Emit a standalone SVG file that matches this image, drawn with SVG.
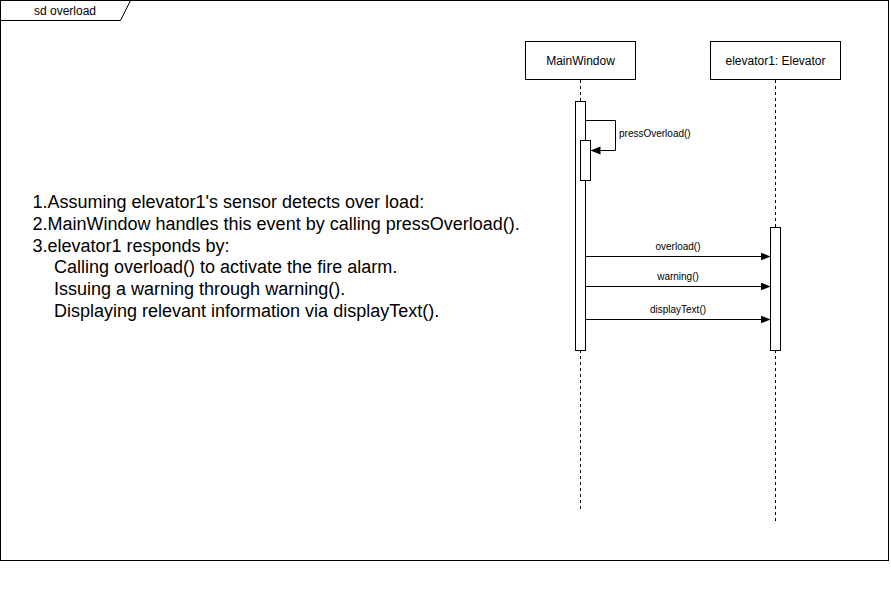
<svg xmlns="http://www.w3.org/2000/svg" width="891" height="606" viewBox="0 0 891 606">
<defs>
<marker id="arr" viewBox="0 0 10 10" refX="10" refY="5" markerWidth="10" markerHeight="10" markerUnits="userSpaceOnUse" orient="auto">
<path d="M0,1 L10,5 L0,9 Z" fill="#000"/>
</marker>
<style>
.t{font-family:"Liberation Sans",Arial,Helvetica,sans-serif;fill:#000}
.box{fill:#fff;stroke:#000;stroke-width:1}
.life{stroke:#000;stroke-width:1;stroke-dasharray:3 3;fill:none}
.msg{stroke:#000;stroke-width:1;fill:none;marker-end:url(#arr)}
</style>
</defs>
<rect width="891" height="606" fill="#fff"/>
<g id="frame">
<rect x="0.5" y="0.5" width="888" height="560" fill="none" stroke="#000"/>
<path d="M0.5,20.5 H120.5 L130.5,0.5" fill="none" stroke="#000"/>
<text class="t" x="65" y="14.5" font-size="12" text-anchor="middle">sd overload</text>
</g>
<g id="note">
<text class="t" font-size="18" x="32.5">
<tspan x="32.5" y="208">1.Assuming elevator1's sensor detects over load:</tspan>
<tspan x="32.5" y="229.8">2.MainWindow handles this event by calling pressOverload().</tspan>
<tspan x="32.5" y="251.6">3.elevator1 responds by:</tspan>
<tspan x="54" y="273.4">Calling overload() to activate the fire alarm.</tspan>
<tspan x="54" y="295.2">Issuing a warning through warning().</tspan>
<tspan x="54" y="317">Displaying relevant information via displayText().</tspan>
</text>
</g>
<g id="mainwindow">
<line class="life" x1="580.5" y1="80" x2="580.5" y2="510"/>
<rect class="box" x="525.5" y="41.5" width="110" height="38"/>
<text class="t" x="580.5" y="64.5" font-size="12" text-anchor="middle">MainWindow</text>
<rect class="box" x="575.5" y="101.5" width="10" height="249"/>
<rect class="box" x="580.5" y="140.5" width="10" height="40"/>
</g>
<g id="elevator1">
<line class="life" x1="775.5" y1="80" x2="775.5" y2="521"/>
<rect class="box" x="710.5" y="41.5" width="130" height="38"/>
<text class="t" x="775.5" y="64.5" font-size="12" text-anchor="middle">elevator1: Elevator</text>
<rect class="box" x="770.5" y="227.5" width="10" height="123"/>
</g>
<g id="connectors">
<path class="msg" d="M585.5,120.5 H615.5 V150.5 H590.5"/>
<text class="t" x="619" y="136.5" font-size="10">pressOverload()</text>
<line class="msg" x1="585.5" y1="256.5" x2="770.5" y2="256.5"/>
<text class="t" x="678" y="250" font-size="10" text-anchor="middle">overload()</text>
<line class="msg" x1="585.5" y1="286.5" x2="770.5" y2="286.5"/>
<text class="t" x="678" y="280" font-size="10" text-anchor="middle">warning()</text>
<line class="msg" x1="585.5" y1="319.5" x2="770.5" y2="319.5"/>
<text class="t" x="678" y="313" font-size="10" text-anchor="middle">displayText()</text>
</g>
</svg>
